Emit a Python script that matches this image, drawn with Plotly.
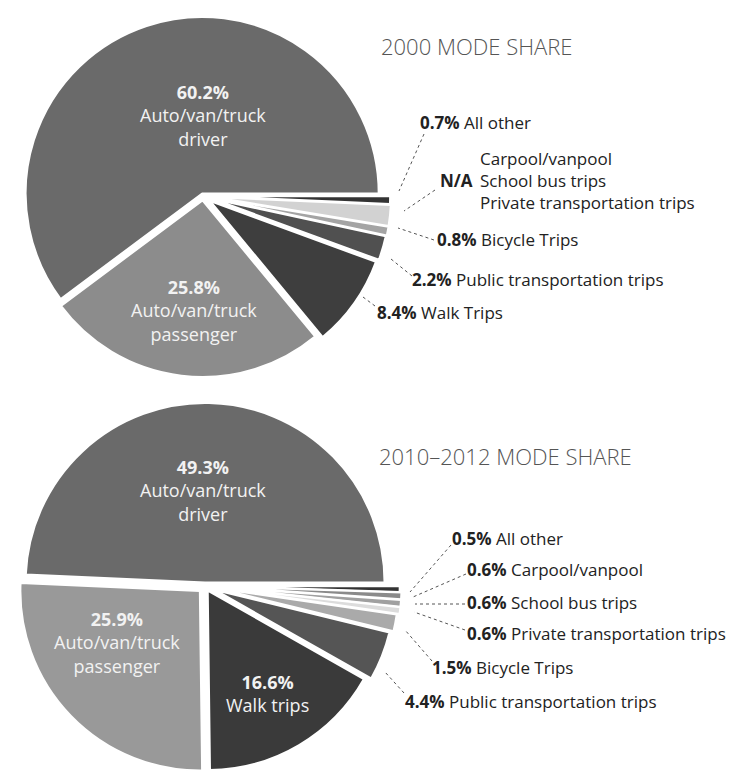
import plotly.graph_objects as go

W, H = 750, 781
OFF = 8  # page body margin offset of the rendered figure

# ---------------- data ----------------
cats_2000 = ["Auto/van/truck driver", "Auto/van/truck passenger", "Walk Trips",
             "Public transportation trips", "Bicycle Trips", "N/A", "All other"]
vals_2000 = [60.2, 25.8, 8.4, 2.2, 0.8, 1.9, 0.7]
pull_2000 = [0.015, 0.025, 0.05, 0.06, 0.065, 0.065, 0.06]
cols_2000 = ["#6a6a6a", "#8c8c8c", "#3e3e3e", "#505050", "#a4a4a4", "#d2d2d2", "#333333"]

cats_2010 = ["Auto/van/truck driver", "Auto/van/truck passenger", "Walk trips",
             "Public transportation trips", "Bicycle Trips", "Private transportation trips",
             "School bus trips", "Carpool/vanpool", "All other"]
vals_2010 = [49.3, 25.9, 16.6, 4.4, 1.5, 0.6, 0.6, 0.6, 0.5]
pull_2010 = [0.02, 0.04, 0.03, 0.06, 0.08, 0.095, 0.095, 0.095, 0.085]
cols_2010 = ["#6a6a6a", "#999999", "#3a3a3a", "#555555", "#aaaaaa", "#dcdcdc",
             "#a0a0a0", "#8a8a8a", "#333333"]

title_2000 = "2000 MODE SHARE"
title_2010 = "2010–2012 MODE SHARE"

FONT = "Open Sans"


def px(x):
    return (x - OFF) / W


def py(y):
    return 1 - (y - OFF) / H


def clip(v):
    return min(1.0, max(0.0, v))


fig = go.Figure()

# slices run clockwise from 3 o'clock, so feed them in reverse order
fig.add_trace(go.Pie(
    labels=cats_2000[::-1], values=vals_2000[::-1], pull=pull_2000[::-1], sort=False,
    direction="clockwise", rotation=90, textinfo="none",
    marker=dict(colors=cols_2000[::-1], line=dict(color="white", width=2)),
    domain=dict(x=[clip(px(15)), clip(px(391))], y=[clip(py(384)), clip(py(8))]),
    showlegend=False, hoverinfo="label+percent",
))
fig.add_trace(go.Pie(
    labels=cats_2010[::-1], values=vals_2010[::-1], pull=pull_2010[::-1], sort=False,
    direction="clockwise", rotation=90, textinfo="none",
    marker=dict(colors=cols_2010[::-1], line=dict(color="white", width=2)),
    domain=dict(x=[clip(px(8.5)), clip(px(401.5))], y=[clip(py(782.5)), clip(py(389.5))]),
    showlegend=False, hoverinfo="label+percent",
))

ann = []
shapes = []


def text(x, y, t, size=17, color="#222", anchor="left", weight=None, align="left"):
    f = dict(family=FONT, size=size, color=color)
    if weight:
        f["weight"] = weight
    ann.append(dict(x=px(x), y=py(y), xref="paper", yref="paper", text=t,
                    showarrow=False, xanchor=anchor, yanchor="middle", font=f,
                    align=align, borderpad=0))


def leader(x0, y0, x1, y1):
    shapes.append(dict(type="line", xref="paper", yref="paper",
                       x0=px(x0), y0=py(y0), x1=px(x1), y1=py(y1),
                       line=dict(color="#555", width=1, dash="dot")))


# titles
text(380, 46, title_2000, size=22, color="#555", weight=300)
text(378, 456, title_2010, size=22, color="#555", weight=300)

# inside labels (white)
WC = "#f2f2f2"
IS = 18
text(203, 115, f"<b>{vals_2000[0]}%</b><br>Auto/van/truck<br>driver", IS, WC, "center", align="center")
text(194, 310, f"<b>{vals_2000[1]}%</b><br>Auto/van/truck<br>passenger", IS, WC, "center", align="center")
text(203, 490, f"<b>{vals_2010[0]}%</b><br>Auto/van/truck<br>driver", IS, WC, "center", align="center")
text(117, 642, f"<b>{vals_2010[1]}%</b><br>Auto/van/truck<br>passenger", IS, WC, "center", align="center")
text(267, 693, f"<b>{vals_2010[2]}%</b><br>{cats_2010[2]}", IS, WC, "center", align="center")

# outside labels 2000
text(419, 122, f"<b>{vals_2000[6]}%</b> {cats_2000[6]}")
leader(424, 134, 399, 191)
text(439, 180, f"<b>{cats_2000[5]}</b>")
text(479, 180, f"{cats_2010[7]}<br>{cats_2010[6]}<br>{cats_2010[5]}")
leader(435, 190, 404, 211)
text(436, 240, f"<b>{vals_2000[4]}%</b> {cats_2000[4]}")
leader(434, 240, 398, 228)
text(411, 279, f"<b>{vals_2000[3]}%</b> {cats_2000[3]}")
leader(412, 276, 391, 259)
text(376, 312, f"<b>{vals_2000[2]}%</b> {cats_2000[2]}")
leader(375, 306, 363, 297)

# outside labels 2010
text(451, 538, f"<b>{vals_2010[8]}%</b> {cats_2010[8]}")
leader(451, 545, 410, 592)
text(466, 569, f"<b>{vals_2010[7]}%</b> {cats_2010[7]}")
leader(466, 574, 413, 597)
text(466, 602, f"<b>{vals_2010[6]}%</b> {cats_2010[6]}")
leader(465, 604, 415, 604)
text(466, 633, f"<b>{vals_2010[5]}%</b> {cats_2010[5]}")
leader(465, 630, 414, 612)
text(431, 667, f"<b>{vals_2010[4]}%</b> {cats_2010[4]}")
leader(432, 661, 405, 630)
text(404, 701, f"<b>{vals_2010[3]}%</b> {cats_2010[3]}")
leader(404, 693, 385, 672)

fig.update_layout(
    width=W, height=H, margin=dict(l=0, r=0, t=0, b=0),
    paper_bgcolor="white", plot_bgcolor="white",
    annotations=ann, shapes=shapes,
    font=dict(family=FONT),
)

fig.write_html("out.html")
